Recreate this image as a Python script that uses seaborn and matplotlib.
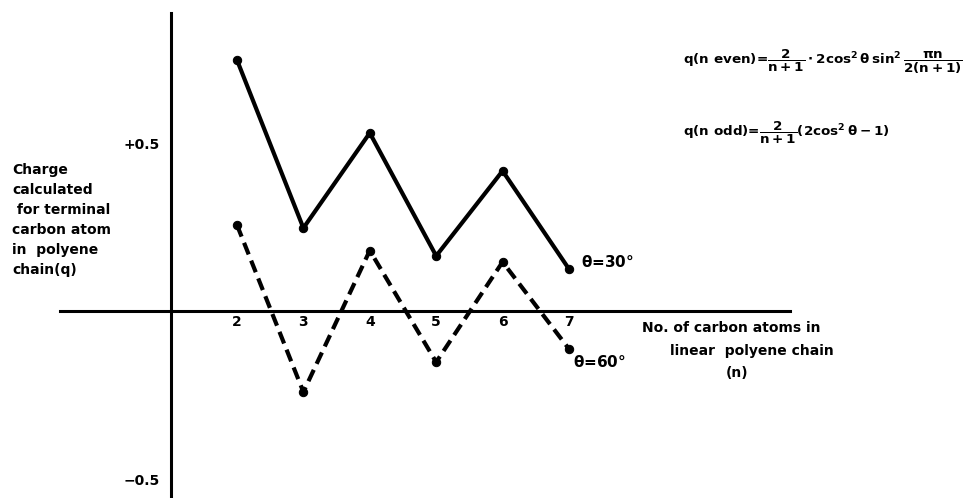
import pandas as pd
import seaborn as sns
import matplotlib
matplotlib.use("Agg")
import matplotlib.pyplot as plt

# data
n_atoms = [2, 3, 4, 5, 6, 7]
q_30 = [0.747, 0.247, 0.530, 0.164, 0.417, 0.125]
q_60 = [0.256, -0.241, 0.180, -0.152, 0.146, -0.113]
x_ticks = [2, 3, 4, 5, 6, 7]
y_ticks = [0.5, -0.5]
y_tick_labels = ["+0.5", "\u22120.5"]

df = pd.DataFrame({"n": n_atoms, "q30": q_30, "q60": q_60})

sns.set_style("white")
plt.rcParams["font.family"] = ["DejaVu Sans"]
plt.rcParams["font.weight"] = "bold"
plt.rcParams["text.color"] = "black"
plt.rcParams["xtick.color"] = "black"
plt.rcParams["ytick.color"] = "black"
plt.rcParams["mathtext.fontset"] = "custom"
plt.rcParams["mathtext.rm"] = "DejaVu Sans:bold"
plt.rcParams["mathtext.it"] = "DejaVu Sans:bold"
plt.rcParams["mathtext.bf"] = "DejaVu Sans:bold"

fig = plt.figure(figsize=(9.64, 4.98), dpi=100)
ax = fig.add_axes([0, 0, 1, 1])
ax.patch.set_alpha(0)

sns.lineplot(data=df, x="n", y="q30", ax=ax, color="black", lw=3,
             marker="o", markersize=6, markeredgecolor="black")
sns.lineplot(data=df, x="n", y="q60", ax=ax, color="black", lw=3,
             linestyle=(0, (3, 1.6)), marker="o", markersize=6,
             markeredgecolor="black")

ax.set_xlim(-1.569, 12.949)
ax.set_ylim(-0.5565, 0.9256)

# axes crossing at (1, 0)
for s in ["top", "right"]:
    ax.spines[s].set_visible(False)
ax.spines["left"].set_position(("data", 1))
ax.spines["left"].set_bounds(-0.5565, 0.887)
ax.spines["bottom"].set_position(("data", 0))
ax.spines["bottom"].set_bounds(-0.666, 10.33)
for s in ["left", "bottom"]:
    ax.spines[s].set_linewidth(2.2)
    ax.spines[s].set_color("black")

ax.set_xticks(x_ticks)
ax.set_xticklabels([str(v) for v in x_ticks], fontsize=10, fontweight="bold")
ax.set_yticks(y_ticks)
ax.set_yticklabels(y_tick_labels, fontsize=10, fontweight="bold")
ax.tick_params(axis="x", direction="in", length=7, width=1.6, pad=3)
ax.tick_params(axis="y", direction="in", length=7, width=1.6, pad=8)
ax.set_xlabel("")
ax.set_ylabel("")

# y-axis description
fig.text(12 / 964, 1 - 163 / 498,
         "Charge\ncalculated\n for terminal\ncarbon atom\nin  polyene\nchain(q)",
         fontsize=10, fontweight="bold", va="top", ha="left", linespacing=1.55)

# x-axis description
fig.text(642 / 964, 1 - 328 / 498, "No. of carbon atoms in",
         fontsize=10, fontweight="bold", va="center", ha="left")
fig.text(670 / 964, 1 - 351 / 498, "linear  polyene chain",
         fontsize=10, fontweight="bold", va="center", ha="left")
fig.text(737 / 964, 1 - 373 / 498, "(n)",
         fontsize=10, fontweight="bold", va="center", ha="center")

# curve labels
fig.text(581 / 964, 1 - 262 / 498, r"$\theta$=30°",
         fontsize=11, fontweight="bold", va="center", ha="left")
fig.text(573 / 964, 1 - 362 / 498, r"$\theta$=60°",
         fontsize=11, fontweight="bold", va="center", ha="left")

# formulas
fig.text(683 / 964, 1 - 62 / 498,
         r"$\mathrm{q(n\ even)}$=$\dfrac{2}{n+1}\cdot2\cos^2\theta\,\sin^2\dfrac{\pi n}{2(n+1)}$",
         fontsize=9.7, va="center", ha="left")
fig.text(683 / 964, 1 - 133 / 498,
         r"$\mathrm{q(n\ odd)}$=$\dfrac{2}{n+1}(2\cos^2\theta-1)$",
         fontsize=9.7, va="center", ha="left")

fig.savefig("out.png", dpi=100)
